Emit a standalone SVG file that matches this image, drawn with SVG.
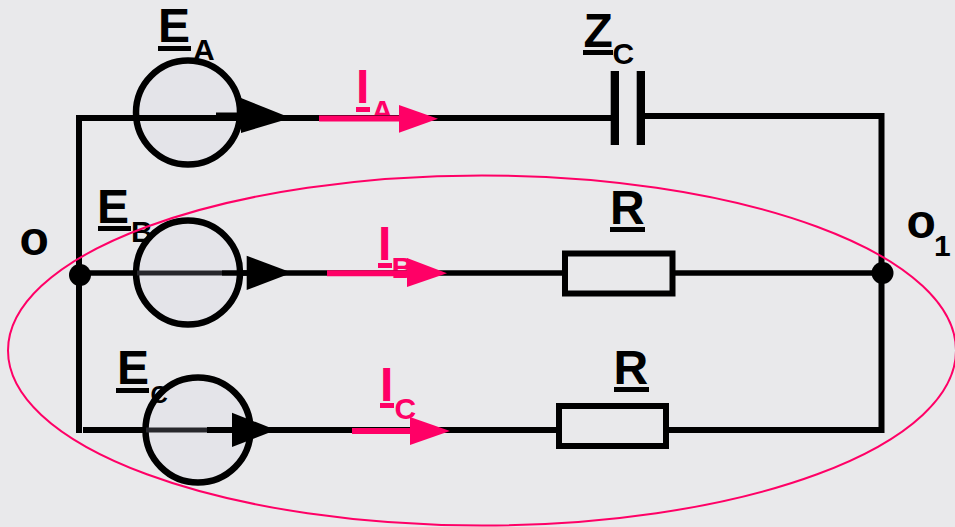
<svg xmlns="http://www.w3.org/2000/svg" width="955" height="527" viewBox="0 0 955 527">
  <style>
    text { font-family: "Liberation Sans", Arial, sans-serif; font-weight: 700; fill: #000; }
    .main { font-size: 48px; }
    .sub { font-size: 30px; }
    .small { font-size: 24px; }
    .pink { fill: #FF0066; }
    .pf { fill: #FF0066; stroke: none; }
    .wire { fill: none; stroke: #000; stroke-width: 6; }
    .wm { fill: none; stroke: #000; stroke-width: 5.5; }
    .dim { fill: none; stroke: #27272c; stroke-width: 5; }
    .pw { fill: none; stroke: #FF0066; stroke-width: 6; }
    .src { fill: #E4E4E9; stroke: #000; stroke-width: 6.500; }
    .res { fill: #E9E9EB; stroke: #000; stroke-width: 6; }
    .ul { fill: #000; stroke: none; }
    .head { fill: #000; stroke: none; }
  </style>
  <rect id="background" x="0" y="0" width="955" height="527" fill="#E9E9EB"/>

  <g id="labels-behind">
    <text class="sub" x="193" y="60">A</text>
    <text class="sub" x="131" y="242">B</text>
    <text class="sub pink" x="371.500" y="121">A</text>
    <text class="sub pink" x="391.500" y="278">B</text>
    <text class="sub pink" x="394.500" y="418.500">C</text>
  </g>

  <g id="connectors">
    <path class="wire" d="M79 118H612"/>
    <path class="wire" d="M645 116H882"/>
    <path class="wire" d="M79 115V433"/>
    <path class="wire" d="M881.500 113V433"/>
    <path class="wm" d="M79 273H565M672 273H882"/>
    <path class="wire" d="M83 430H560M665 430H882"/>
  </g>

  <g id="source-a">
    <circle class="src" cx="188" cy="112.500" r="52"/>
    <path class="wire" d="M137 118H241M216 115.500H241"/>
    <path class="head" d="M241 98L291 118L241 133Z"/>
    <text class="main" x="158" y="42">E</text>
    <rect class="ul" x="158" y="46" width="33" height="5"/>
  </g>
  <g id="source-b">
    <circle class="src" cx="188" cy="272.500" r="52"/>
    <path class="dim" d="M137 273H222"/>
    <path class="wm" d="M222 273H247"/>
    <path class="head" d="M246.700 255.700L292 272.700L246.700 290Z"/>
    <text class="main" x="97" y="223">E</text>
    <rect class="ul" x="98" y="226" width="33" height="5"/>
  </g>
  <g id="source-c">
    <circle class="src" cx="198" cy="430" r="52.500"/>
    <path class="dim" d="M146 430H207"/>
    <path class="wire" d="M207 430H233"/>
    <path class="head" d="M232 412.700L276 430L232 447Z"/>
    <text class="main" x="117" y="384">E</text>
    <rect class="ul" x="116" y="388" width="33" height="5"/>
    <text class="small" x="150.500" y="403">C</text>
  </g>

  <g id="current-a">
    <path class="pw" d="M319 118.500H400"/>
    <path class="pf" d="M399 105L438 118.700L399 132.700Z"/>
    <text class="main pink" x="356" y="103">I</text>
    <rect class="pf" x="356" y="107" width="14" height="5"/>
  </g>
  <g id="current-b">
    <path class="pw" d="M327 273.300H408"/>
    <path class="pf" d="M407 258L447 273.300L407 287Z"/>
    <text class="main pink" x="378" y="260">I</text>
    <rect class="pf" x="378" y="263" width="14" height="5"/>
  </g>
  <g id="current-c">
    <path class="pw" d="M352 431H411"/>
    <path class="pf" d="M410 417L450 431L410 445Z"/>
    <text class="main pink" x="380" y="400.500">I</text>
    <rect class="pf" x="380" y="403" width="14" height="5"/>
  </g>

  <g id="capacitor">
    <rect class="ul" x="610.700" y="71" width="8.300" height="74"/>
    <rect class="ul" x="636.700" y="71" width="8.300" height="74"/>
    <text class="main" x="583.500" y="46.500">Z</text>
    <rect class="ul" x="583" y="50" width="30" height="5"/>
    <text class="sub" x="612.500" y="64">C</text>
  </g>
  <g id="resistor-b">
    <rect class="res" x="565" y="253.500" width="107.500" height="40"/>
    <text class="main" x="610" y="224">R</text>
    <rect class="ul" x="610" y="227" width="35" height="5"/>
  </g>
  <g id="resistor-c">
    <rect class="res" x="559" y="406" width="107" height="40"/>
    <text class="main" x="613.500" y="384">R</text>
    <rect class="ul" x="614" y="387" width="35" height="5"/>
  </g>

  <g id="node-o">
    <circle cx="80" cy="275" r="11" fill="#000"/>
    <text class="main" x="19.500" y="255">o</text>
  </g>
  <g id="node-o1">
    <circle cx="882.500" cy="273" r="11" fill="#000"/>
    <text class="main" x="906.500" y="238">o</text>
    <text class="sub" x="934" y="256">1</text>
  </g>

  <ellipse id="loop" cx="482" cy="350.500" rx="474" ry="175" fill="none" stroke="#FF0066" stroke-width="2"/>
</svg>
